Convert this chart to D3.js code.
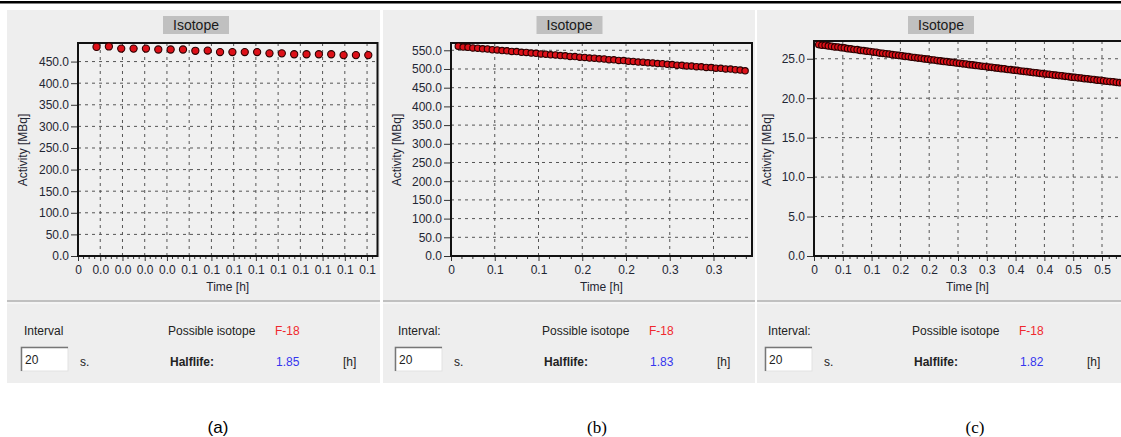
<!DOCTYPE html>
<html>
<head>
<meta charset="utf-8">
<script src="https://cdn.jsdelivr.net/npm/d3@7"></script>
<style>
body { margin: 0; background: #fff; }
svg text { font-family: "Liberation Sans", Arial, sans-serif; }
</style>
</head>
<body>
<div id="fig"></div>
<script>
// measurement interval (s) and time of the first sample (s)
var intervalSec = 20;
var firstSec = 30;

// activity readings [MBq], one per interval
var activityA = [484, 485, 480, 480, 480, 478, 478, 478, 475, 475.5, 472, 472,
  472, 472, 469, 469, 467, 467, 467, 467, 465, 465, 465];

var activityB = [561.0, 558.6, 558.1, 556.2, 555.6, 554.0, 553.4, 551.5, 551.0, 549.2,
  548.6, 547.0, 546.5, 544.7, 544.2, 542.5, 542.0, 540.2, 539.7, 538.0,
  537.5, 535.8, 535.3, 533.6, 533.1, 531.5, 531.0, 529.3, 528.8, 527.1,
  526.7, 525.0, 524.5, 522.9, 522.4, 520.7, 520.3, 518.6, 518.2, 516.5,
  516.1, 514.4, 514.0, 512.4, 511.9, 510.3, 509.9, 508.2, 507.8, 506.2,
  505.8, 504.1, 503.7, 502.1, 501.7, 500.1, 499.7, 498.0, 497.0, 495.2];

var activityC = [26.80, 26.71, 26.70, 26.62, 26.58, 26.50, 26.49, 26.40, 26.37, 26.28,
  26.24, 26.17, 26.15, 26.06, 26.03, 25.96, 25.92, 25.84, 25.81, 25.72,
  25.69, 25.62, 25.60, 25.52, 25.47, 25.42, 25.37, 25.30, 25.27, 25.19,
  25.15, 25.08, 25.06, 24.98, 24.95, 24.87, 24.84, 24.77, 24.73, 24.66,
  24.63, 24.56, 24.53, 24.46, 24.42, 24.36, 24.33, 24.25, 24.22, 24.15,
  24.11, 24.05, 24.02, 23.95, 23.91, 23.85, 23.81, 23.74, 23.72, 23.64,
  23.61, 23.55, 23.52, 23.45, 23.41, 23.36, 23.31, 23.25, 23.22, 23.15,
  23.11, 23.06, 23.03, 22.96, 22.92, 22.87, 22.83, 22.77, 22.74, 22.67,
  22.63, 22.58, 22.55, 22.48, 22.45, 22.39, 22.36, 22.29, 22.27, 22.20,
  22.15, 22.11, 22.07, 22.01, 21.97, 21.92];

// axis ticks and labels
var xTicksA = [0, 0.01, 0.02, 0.03, 0.04, 0.05, 0.06, 0.07, 0.08, 0.09, 0.10, 0.11, 0.12, 0.13];
var xLabelsA = ["0", "0.0", "0.0", "0.0", "0.0", "0.1", "0.1", "0.1", "0.1", "0.1", "0.1", "0.1", "0.1", "0.1"];
var yTicksA = [0, 50, 100, 150, 200, 250, 300, 350, 400, 450];

var xTicksB = [0, 0.05, 0.1, 0.15, 0.2, 0.25, 0.3];
var xLabelsB = ["0", "0.1", "0.1", "0.2", "0.2", "0.3", "0.3"];
var yTicksB = [0, 50, 100, 150, 200, 250, 300, 350, 400, 450, 500, 550];

var xTicksC = [0, 0.05, 0.1, 0.15, 0.2, 0.25, 0.3, 0.35, 0.4, 0.45, 0.5];
var xLabelsC = ["0", "0.1", "0.1", "0.2", "0.2", "0.3", "0.3", "0.4", "0.4", "0.5", "0.5"];
var yTicksC = [0, 5, 10, 15, 20, 25];

var halflives = ["1.85", "1.83", "1.82"];
var captions = ["(a)", "(b)", "(c)"];

var svg = d3.select("#fig").append("svg")
  .attr("width", 1121)
  .attr("height", 437);

// rule at the very top
svg.append("rect").attr("x", 0).attr("y", 1).attr("width", 1121).attr("height", 2.5).attr("fill", "#000");

var panels = [
  {px: 7, pw: 373, left: 78, right: 377.5, top: 43, xMax: 0.1347, yMax: 493,
   data: activityA, xTicks: xTicksA, xLabels: xLabelsA, yTicks: yTicksA, r: 3.6,
   titleX: 196, labelX: 27, tx: 0, capX: 218, capFont: "'Liberation Sans', Arial, sans-serif"},
  {px: 383, pw: 372, left: 451, right: 752, top: 43, xMax: 0.344, yMax: 569.5,
   data: activityB, xTicks: xTicksB, xLabels: xLabelsB, yTicks: yTicksB, r: 3.2,
   titleX: 569.5, labelX: 401, tx: 374, capX: 597, capFont: "'Liberation Serif', 'Times New Roman', serif"},
  {px: 757, pw: 364, left: 814, right: 1130, top: 41, xMax: 0.5486, yMax: 27.25,
   data: activityC, xTicks: xTicksC, xLabels: xLabelsC, yTicks: yTicksC, r: 3.3,
   titleX: 941, labelX: 771, tx: 744, capX: 975, capFont: "'Liberation Serif', 'Times New Roman', serif"}
];

var bottom = 256;

panels.forEach(function (p, k) {
  var g = svg.append("g");

  g.append("rect").attr("x", p.px).attr("y", 10).attr("width", p.pw).attr("height", 373).attr("fill", "#eeeeee");
  g.append("line").attr("x1", p.px).attr("x2", p.px + p.pw).attr("y1", 301).attr("y2", 301)
    .attr("stroke", "#b0b0b0").attr("stroke-width", 1.5);
  g.append("line").attr("x1", p.px).attr("x2", p.px + p.pw).attr("y1", 303).attr("y2", 303)
    .attr("stroke", "#fafafa").attr("stroke-width", 1);

  // title box
  g.append("rect").attr("x", p.titleX - 33).attr("y", 16).attr("width", 66).attr("height", 18).attr("fill", "#c0c0c0");
  g.append("text").attr("x", p.titleX).attr("y", 30).attr("text-anchor", "middle")
    .style("font-size", "14px").attr("fill", "#1a1a1a").text("Isotope");

  var xScale = d3.scaleLinear().domain([0, p.xMax]).range([p.left, p.right]);
  var yScale = d3.scaleLinear().domain([0, p.yMax]).range([bottom, p.top]);

  g.append("rect").attr("x", p.left).attr("y", p.top).attr("width", p.right - p.left)
    .attr("height", bottom - p.top).attr("fill", "#f0f0f0");

  // dashed grid
  g.append("g").selectAll("line").data(p.yTicks.slice(1)).enter().append("line")
    .attr("x1", p.left).attr("x2", p.right)
    .attr("y1", function (d) { return yScale(d); })
    .attr("y2", function (d) { return yScale(d); })
    .attr("stroke", "#555").attr("stroke-dasharray", "3,4");
  g.append("g").selectAll("line").data(p.xTicks.slice(1)).enter().append("line")
    .attr("x1", function (d) { return xScale(d); })
    .attr("x2", function (d) { return xScale(d); })
    .attr("y1", p.top).attr("y2", bottom)
    .attr("stroke", "#555").attr("stroke-dasharray", "3,4");

  // minor ticks on the time axis
  var minor = [];
  for (var i = 0; i < p.xTicks.length; i++) {
    var a = p.xTicks[i], b = i + 1 < p.xTicks.length ? p.xTicks[i + 1] : a + (a - p.xTicks[i - 1]);
    for (var j = 1; j < 4; j++) minor.push(a + (b - a) * j / 4);
  }
  g.append("g").selectAll("line").data(minor.filter(function (d) { return d < p.xMax; })).enter().append("line")
    .attr("x1", function (d) { return xScale(d); })
    .attr("x2", function (d) { return xScale(d); })
    .attr("y1", bottom).attr("y2", bottom + 3)
    .attr("stroke", "#333");

  // axes
  var yAxis = g.append("g").attr("transform", "translate(" + p.left + ",0)")
    .call(d3.axisLeft(yScale).tickValues(p.yTicks).tickFormat(d3.format(".1f")).tickSize(7).tickPadding(2));
  var xAxis = g.append("g").attr("transform", "translate(0," + bottom + ")")
    .call(d3.axisBottom(xScale).tickValues(p.xTicks).tickFormat(function (d, i) { return p.xLabels[i]; })
      .tickSize(5).tickPadding(4));
  [yAxis, xAxis].forEach(function (ax) {
    ax.select(".domain").remove();
    ax.selectAll("line").attr("stroke", "#333");
    ax.selectAll("text").style("font-size", "12px").attr("fill", "#1f2633")
      .style("font-family", "'Liberation Sans', Arial, sans-serif");
  });

  // frame
  g.append("rect").attr("x", p.left).attr("y", p.top).attr("width", p.right - p.left)
    .attr("height", bottom - p.top).attr("fill", "none").attr("stroke", "#111").attr("stroke-width", 2);

  // axis titles
  g.append("text").attr("transform", "translate(" + p.labelX + "," + 150 + ") rotate(-90)")
    .attr("text-anchor", "middle").style("font-size", "12px").attr("fill", "#1f2633").text("Activity [MBq]");
  g.append("text").attr("x", (p.left + Math.min(p.right, 1121)) / 2).attr("y", 291)
    .attr("text-anchor", "middle").style("font-size", "12px").attr("fill", "#1f2633").text("Time [h]");

  // measured points
  g.append("g").selectAll("circle").data(p.data).enter().append("circle")
    .attr("cx", function (d, i) { return xScale((firstSec + i * intervalSec) / 3600); })
    .attr("cy", function (d) { return yScale(d); })
    .attr("r", p.r)
    .attr("fill", "#dd1018")
    .attr("stroke", "#2a0000")
    .attr("stroke-width", 1.1);

  // lower info block
  var t = g.append("g").style("font-size", "12px").attr("fill", "#222");
  t.append("text").attr("x", 24 + p.tx).attr("y", 335).text(k === 0 ? "Interval" : "Interval:");
  t.append("rect").attr("x", 21 + p.tx).attr("y", 347).attr("width", 47).attr("height", 24)
    .attr("fill", "#fff").attr("stroke", "#e2e2e2");
  t.append("path").attr("d", "M" + (21.5 + p.tx) + ",371 V347.5 H" + (68 + p.tx))
    .attr("fill", "none").attr("stroke", "#777").attr("stroke-width", 1.5);
  t.append("text").attr("x", 25 + p.tx).attr("y", 364).text("20");
  t.append("text").attr("x", 80 + p.tx).attr("y", 366).text("s.");
  t.append("text").attr("x", 168 + p.tx).attr("y", 335).text("Possible isotope");
  t.append("text").attr("x", 275 + p.tx).attr("y", 335).attr("fill", "#f0282d").text("F-18");
  t.append("text").attr("x", 170 + p.tx).attr("y", 366).style("font-weight", "bold").text("Halflife:");
  t.append("text").attr("x", 276 + p.tx).attr("y", 366).attr("fill", "#3535ee").text(halflives[k]);
  t.append("text").attr("x", 343 + p.tx).attr("y", 366).text("[h]");

  // caption
  svg.append("text").attr("x", p.capX).attr("y", 433).attr("text-anchor", "middle")
    .style("font-size", "17px").style("font-family", p.capFont).attr("fill", "#000").text(captions[k]);
});
</script>
</body>
</html>
